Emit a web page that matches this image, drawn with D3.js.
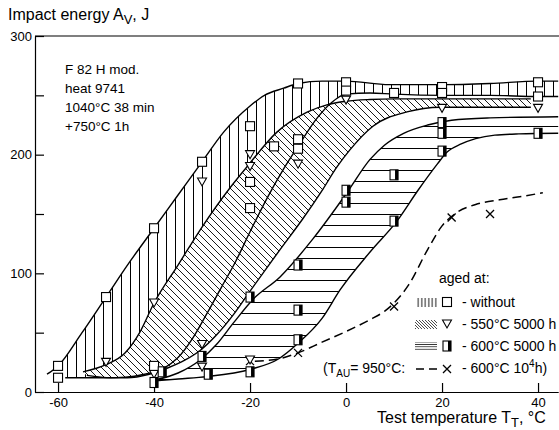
<!DOCTYPE html>
<html>
<head>
<meta charset="utf-8">
<script src="https://cdn.jsdelivr.net/npm/d3@7"></script>
<style>
body { margin: 0; background: #fff; }
text { font-family: "Liberation Sans", Arial, sans-serif; fill: #000; }
</style>
</head>
<body>
<svg width="559" height="430"></svg>
<script>
// band boundaries, [test temperature °C, impact energy J]
var withoutUpper = [[-62.3,15],[-60,22],[-55,50],[-50,80],[-45,110],[-40,138],[-35,166],[-30,194],[-25.5,219],[-20,241],[-17,250],[-13,256],[-10,260],[-5,262],[0,262],[9,259],[20,259],[30,260],[40,262],[44.2,262]];
var withoutLower = [[-58.5,12],[-50,12],[-46,12.5],[-42,15],[-38,20],[-35,29],[-32,45],[-29,66],[-26,88],[-23,110],[-20,135],[-16.5,163],[-13,188],[-10,207],[-6,231],[-3,244],[0,251],[5,252],[10,251],[20,250],[30,250],[40,249],[44.2,249]];
var aged550Left = [[-54.8,17],[-50,23],[-46,33],[-43,50],[-40,75],[-35,107],[-30,139],[-24,173],[-20.6,190],[-14.4,219],[-8,236],[-4,242],[0,245],[5,246.5],[10,247],[38.5,247]];
var aged550Right = [[-54,14],[-49,12],[-45.6,12],[-41,15],[-37.3,20],[-33.5,27],[-30.4,35],[-27,48],[-23.5,65],[-20,85],[-13.75,120],[-9,146],[-4.8,171],[-2,189],[0.8,204],[5.6,224],[12.7,236],[19.6,240],[38.5,240]];
var aged600Upper = [[-39.4,10.5],[-35,16],[-30.4,27],[-27,40],[-23.5,58],[-19.4,78],[-13.75,97],[-6.9,129],[0.2,168],[5,196],[8,208],[12,218],[17,225],[22,229],[30,231],[44.2,232]];
var aged600Lower = [[-39.4,9.5],[-35,11],[-29,13],[-20,19],[-14,28],[-10,41],[-5,62],[-1.25,86],[5,118],[10.6,144],[15,170],[19,192],[21,202],[24,209],[27,213.5],[31,216.5],[36,217.5],[44.2,218]];
var aged10000Curve = [[-19,26],[-14,28],[-10,33],[-5,42],[0,51],[5,61],[8,68],[10,75],[13,90],[17,120],[20,140],[23,151],[27,158],[32,162],[37,165],[41,168]];

// measured points
var ptsWithout = [[-60,22],[-60,12],[-50,80],[-40,138],[-40,22],[-30,194],[-20,224],[-20,177],[-20,155],[-15,207],[-10,260],[-10,213],[-10,205],[0,261],[0,254],[10,252],[20,257],[20,252],[40,261],[40,249]];
var pts550 = [[-50,25],[-40,75],[-40,15],[-30,177],[-30,40],[-30,21],[-20,200],[-20,190],[-20,27],[-10,192],[0,246],[20,239],[40,239]];
var pts600 = [[-40,8],[-38.3,17],[-30,30],[-28.7,15],[-20,17],[-20,80],[-10,44],[-10,69],[-10,107],[0,170],[0,160],[10,183],[10,144],[20,227],[20,218],[20,203],[40,218]];
var pts10000 = [[-20,26],[-10,33],[10,72],[22,147],[30,150]];

var xTicks = [-60, -40, -20, 0, 20, 40];
var yTicks = [0, 50, 100, 150, 200, 250, 300];
var noteLines = ["F 82 H mod.", "heat 9741", "1040°C 38 min", "+750°C 1h"];

var svg = d3.select("svg");
var x = d3.scaleLinear().domain([-64.8, 44.2]).range([35, 558.2]);
var y = d3.scaleLinear().domain([0, 300]).range([392, 36]);

var defs = svg.append("defs");
function hatch(id, w, h, d, sw) {
    var p = defs.append("pattern").attr("id", id)
        .attr("patternUnits", "userSpaceOnUse").attr("width", w).attr("height", h);
    p.append("path").attr("d", d).attr("stroke", "#000").attr("stroke-width", sw).attr("fill", "none");
}
hatch("vert", 9, 9, "M4.5,0V9", 1);
hatch("diag", 7, 7, "M0,0L7,7M-1,6L1,8M6,-1L8,1", 0.9);
hatch("horiz", 11, 11, "M0,5.5H11", 1);
hatch("vertL", 3.5, 10, "M1.75,0V10", 0.9);
hatch("diagL", 3, 3, "M0,0L3,3M-1,2L1,4M2,-1L4,1", 0.7);
hatch("horizL", 10, 2.4, "M0,1.2H10", 0.8);

defs.append("clipPath").attr("id", "clipW").append("rect")
    .attr("x", x(-58.5)).attr("y", 0).attr("width", 600).attr("height", y(0));

var line = d3.line().x(function (d) { return x(d[0]); }).y(function (d) { return y(d[1]); })
    .curve(d3.curveMonotoneX);
function band(a, b) {
    return line(a) + "L" + line(b.slice().reverse()).slice(1) + "Z";
}

var g = svg.append("g");
g.append("path").attr("d", band(withoutUpper, withoutLower))
    .attr("fill", "url(#vert)").attr("clip-path", "url(#clipW)");
g.append("path").attr("d", band(aged550Left, aged550Right)).attr("fill", "#fff");
g.append("path").attr("d", band(aged550Left, aged550Right)).attr("fill", "url(#diag)");
g.append("path").attr("d", band(aged600Upper, aged600Lower)).attr("fill", "#fff");
g.append("path").attr("d", band(aged600Upper, aged600Lower)).attr("fill", "url(#horiz)");

[withoutUpper, withoutLower, aged550Left, aged550Right, aged600Upper, aged600Lower].forEach(function (c) {
    g.append("path").attr("d", line(c)).attr("fill", "none").attr("stroke", "#000").attr("stroke-width", 1.4);
});
g.append("path").attr("d", line(aged10000Curve)).attr("fill", "none")
    .attr("stroke", "#000").attr("stroke-width", 1.5).attr("stroke-dasharray", "9,5");

// axes
svg.append("g").attr("transform", "translate(0," + y(0) + ")")
    .call(d3.axisBottom(x).tickValues(xTicks).tickSizeInner(-9).tickSizeOuter(0).tickPadding(6)
        .tickFormat(function (d) { return String(d); }))
    .call(function (a) {
        a.selectAll("text").attr("font-size", 13).attr("font-family", null);
        a.selectAll("path,line").attr("stroke-width", 1.2);
    });
svg.append("g").attr("transform", "translate(" + x.range()[0] + ",0)")
    .call(d3.axisLeft(y).tickValues(yTicks).tickSizeInner(-9).tickSizeOuter(0).tickPadding(3)
        .tickFormat(function (d) { return d % 100 === 0 ? d : ""; }))
    .call(function (a) {
        a.selectAll("text").attr("font-size", 13).attr("font-family", null);
        a.selectAll("path,line").attr("stroke-width", 1.2);
    });
svg.append("line").attr("x1", x.range()[0]).attr("x2", 559).attr("y1", y(300)).attr("y2", y(300))
    .attr("stroke", "#000").attr("stroke-width", 1.2);

// markers
function square(sel, cx, cy) {
    sel.append("rect").attr("x", cx - 4.5).attr("y", cy - 4.5).attr("width", 9).attr("height", 9)
        .attr("fill", "#fff").attr("stroke", "#000").attr("stroke-width", 1.1);
}
function triangle(sel, cx, cy) {
    sel.append("path").attr("d", "M" + (cx - 4.5) + "," + (cy - 4) + "h9l-4.5,8z")
        .attr("fill", "#fff").attr("stroke", "#000").attr("stroke-width", 1.1);
}
function halfSquare(sel, cx, cy) {
    sel.append("rect").attr("x", cx - 4).attr("y", cy - 5).attr("width", 8).attr("height", 10)
        .attr("fill", "#fff").attr("stroke", "#000").attr("stroke-width", 1.1);
    sel.append("rect").attr("x", cx + 1).attr("y", cy - 5).attr("width", 3).attr("height", 10).attr("fill", "#000");
}
function cross(sel, cx, cy) {
    sel.append("path").attr("d", "M" + (cx - 4) + "," + (cy - 4) + "l8,8m0,-8l-8,8")
        .attr("stroke", "#000").attr("stroke-width", 1.3);
}
var m = svg.append("g");
pts10000.forEach(function (d) { cross(m, x(d[0]), y(d[1])); });
pts550.forEach(function (d) { triangle(m, x(d[0]), y(d[1])); });
ptsWithout.forEach(function (d) { square(m, x(d[0]), y(d[1])); });
pts600.forEach(function (d) { halfSquare(m, x(d[0]), y(d[1])); });

// texts
var t = svg.append("text").attr("x", 8).attr("y", 20).attr("font-size", 16);
t.append("tspan").text("Impact energy A");
t.append("tspan").attr("dy", 4).attr("font-size", 13).text("V");
t.append("tspan").attr("dy", -4).text(", J");

var tx = svg.append("text").attr("x", 377).attr("y", 423).attr("font-size", 16);
tx.append("tspan").text("Test temperature T");
tx.append("tspan").attr("dy", 4).attr("font-size", 13).text("T");
tx.append("tspan").attr("dy", -4).text(", °C");

svg.selectAll(".note").data(noteLines).enter().append("text").attr("class", "note")
    .attr("x", 65).attr("y", function (d, i) { return 74 + i * 19; })
    .attr("font-size", 13.5).text(function (d) { return d; });

// legend
var lg = svg.append("g");
lg.append("text").attr("x", 439).attr("y", 283).attr("font-size", 14).text("aged at:");
var rows = [307, 329, 351, 373];
lg.append("rect").attr("x", 416).attr("y", rows[0] - 9).attr("width", 21).attr("height", 9).attr("fill", "url(#vertL)");
lg.append("rect").attr("x", 415).attr("y", rows[1] - 9).attr("width", 22).attr("height", 9).attr("fill", "url(#diagL)");
lg.append("rect").attr("x", 415).attr("y", rows[2] - 9).attr("width", 22).attr("height", 9).attr("fill", "url(#horizL)");
lg.append("line").attr("x1", 416).attr("x2", 438).attr("y1", rows[3] - 4).attr("y2", rows[3] - 4)
    .attr("stroke", "#000").attr("stroke-width", 1.5).attr("stroke-dasharray", "8,5");
square(lg, 447, rows[0] - 5);
triangle(lg, 447, rows[1] - 5);
halfSquare(lg, 447, rows[2] - 5);
cross(lg, 447, rows[3] - 4);
["- without", "- 550°C 5000 h", "- 600°C 5000 h"].forEach(function (s, i) {
    lg.append("text").attr("x", 462).attr("y", rows[i]).attr("font-size", 14).text(s);
});
var l4 = lg.append("text").attr("x", 462).attr("y", rows[3]).attr("font-size", 14);
l4.append("tspan").text("- 600°C 10");
l4.append("tspan").attr("dy", -6).attr("font-size", 10).text("4");
l4.append("tspan").attr("dy", 6).text("h)");
var l5 = lg.append("text").attr("x", 323).attr("y", rows[3]).attr("font-size", 14);
l5.append("tspan").text("(T");
l5.append("tspan").attr("dy", 4).attr("font-size", 10).text("AU");
l5.append("tspan").attr("dy", -4).text("= 950°C:");
</script>
</body>
</html>
